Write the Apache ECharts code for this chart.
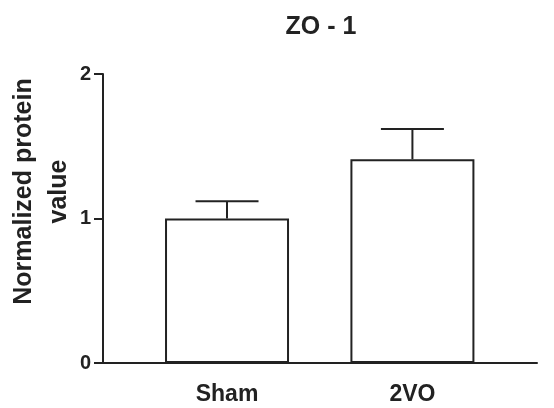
<!DOCTYPE html>
<html>
<head>
<meta charset="utf-8">
<script src="https://cdn.jsdelivr.net/npm/echarts@6/dist/echarts.min.js"></script>
<style>
  html, body { margin: 0; padding: 0; background: #fff; }
  #chart { width: 554px; height: 408px; }
</style>
</head>
<body>
<div id="chart"></div>
<script>
// 数据
const groups = ['Sham', '2VO'];
const groupPos = [1, 2];
const meanValues = [1.00, 1.41];
const errValues = [0.12, 0.21];
const yTicks = [0, 1, 2];

const ink = '#222';
const font = 'Liberation Sans, Arial, Helvetica, sans-serif';

const chart = echarts.init(document.getElementById('chart'), null, { renderer: 'canvas' });

const barData = groupPos.map((x, i) => [x, meanValues[i]]);
const errData = groupPos.map((x, i) => [x, meanValues[i], errValues[i]]);

const option = {
  backgroundColor: '#fff',
  animation: false,
  title: {
    text: 'ZO - 1',
    left: 316,
    textAlign: 'center',
    top: 10,
    textStyle: { fontFamily: font, fontSize: 25, fontWeight: 'bold', color: ink }
  },
  grid: { left: 103, right: 17, top: 74, bottom: 45, containLabel: false, outerBoundsMode: 'none' },
  xAxis: {
    type: 'value',
    min: 0.331,
    max: 2.672,
    axisLine: { show: true, lineStyle: { color: ink, width: 2 } },
    axisTick: { show: false },
    splitLine: { show: false },
    axisLabel: {
      customValues: groupPos,
      margin: 20,
      formatter: v => groups[groupPos.indexOf(v)] || '',
      fontFamily: font, fontSize: 23, fontWeight: 'bold', color: ink
    }
  },
  yAxis: {
    type: 'value',
    min: yTicks[0],
    max: yTicks[yTicks.length - 1],
    interval: 1,
    name: 'Normalized protein\nvalue',
    nameLocation: 'middle',
    nameGap: 26,
    nameMoveOverlap: false,
    nameTextStyle: {
      fontFamily: font, fontSize: 25, fontWeight: 'bold', color: ink,
      lineHeight: 35, padding: [0, 0, 0, 54]
    },
    axisLine: { show: true, lineStyle: { color: ink, width: 2 } },
    axisTick: { show: true, length: 9, lineStyle: { color: ink, width: 2 } },
    splitLine: { show: false },
    axisLabel: { margin: 12, fontFamily: font, fontSize: 20, fontWeight: 'bold', color: ink }
  },
  series: [
    {
      type: 'bar',
      data: barData,
      barWidth: 124,
      itemStyle: { color: '#fff', borderColor: ink, borderWidth: 2 },
      z: 2
    },
    {
      type: 'custom',
      data: errData,
      z: 3,
      renderItem: (params, api) => {
        const x = api.value(0);
        const y = api.value(1);
        const e = api.value(2);
        const base = api.coord([x, y]);
        const top = api.coord([x, y + e]);
        const half = 31.5;
        const style = { stroke: ink, lineWidth: 2 };
        return {
          type: 'group',
          children: [
            { type: 'line', shape: { x1: base[0], y1: base[1], x2: top[0], y2: top[1] }, style },
            { type: 'line', shape: { x1: top[0] - half, y1: top[1], x2: top[0] + half, y2: top[1] }, style }
          ]
        };
      }
    }
  ]
};

chart.setOption(option);
</script>
</body>
</html>
